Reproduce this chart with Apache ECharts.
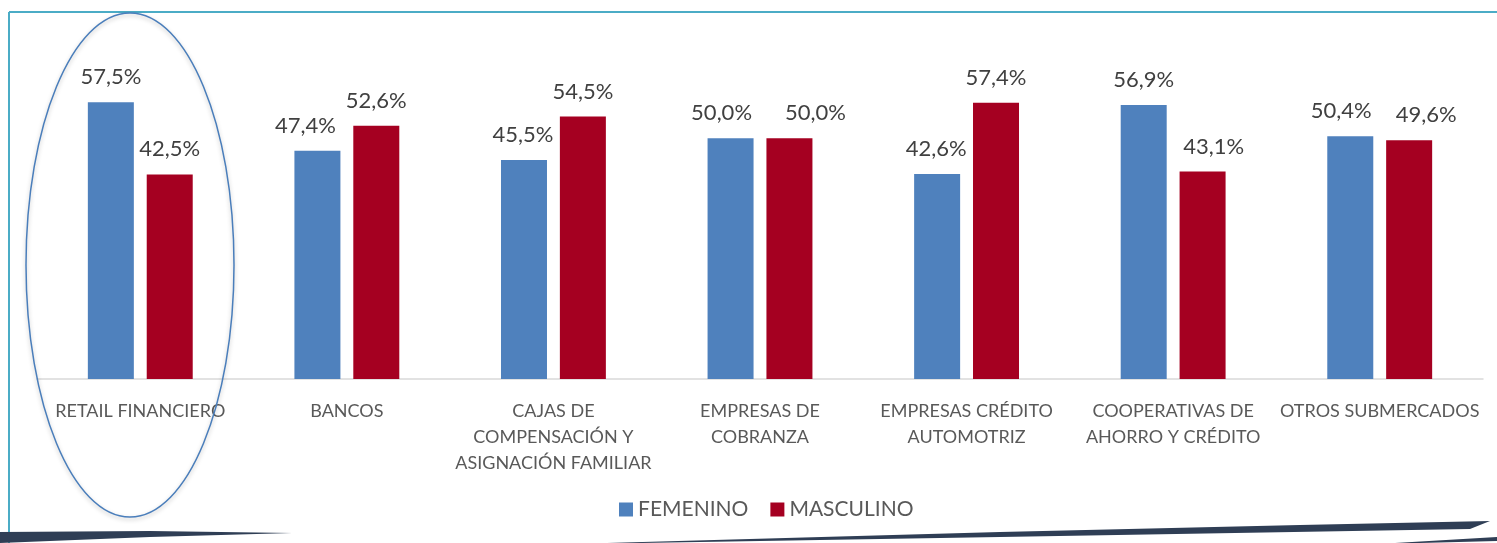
<!DOCTYPE html>
<html>
<head>
<meta charset="utf-8">
<script src="https://cdn.jsdelivr.net/npm/echarts@6/dist/echarts.min.js"></script>
<style>
  html, body { margin: 0; padding: 0; background: #fff; }
  #chart { width: 1497px; height: 543px; }
</style>
</head>
<body>
<div id="chart"></div>
<script>
// categories (line breaks as in the original chart)
var categories = [
  'RETAIL FINANCIERO',
  'BANCOS',
  'CAJAS DE\nCOMPENSACIÓN Y\nASIGNACIÓN FAMILIAR',
  'EMPRESAS DE\nCOBRANZA',
  'EMPRESAS CRÉDITO\nAUTOMOTRIZ',
  'COOPERATIVAS DE\nAHORRO Y CRÉDITO',
  'OTROS SUBMERCADOS'
];
var femenino = [57.5, 47.4, 45.5, 50.0, 42.6, 56.9, 50.4];
var masculino = [42.5, 52.6, 54.5, 50.0, 57.4, 43.1, 49.6];

// horizontal nudges of the value labels, like the original layout
var femLabelShift = [0, -12, -1, -9, -1, 0, -9];
var masLabelShift = [0, 0, 0, 26, 0, 11, 17];

var FONT = 'Lato, "Open Sans", sans-serif';

function pct(p) {
  return p.value.toFixed(1).replace('.', ',') + '%';
}

function withShift(values, shifts) {
  return values.map(function (v, i) {
    return { value: v, label: { offset: [shifts[i], 0] } };
  });
}

var labelStyle = {
  show: true, position: 'top', distance: 14, formatter: pct,
  fontFamily: FONT, fontSize: 22, color: '#404040'
};

var chart = echarts.init(document.getElementById('chart'));
chart.setOption({
  animation: false,
  backgroundColor: '#fff',
  grid: { left: 37, right: 14, top: 42, height: 337 },
  legend: {
    bottom: 18,
    left: 614,
    itemWidth: 14,
    itemHeight: 14,
    itemGap: 22,
    icon: 'rect',
    textStyle: { fontFamily: FONT, fontSize: 21, color: '#595959' },
    data: ['FEMENINO', 'MASCULINO']
  },
  xAxis: {
    type: 'category',
    data: categories,
    axisLine: { lineStyle: { color: '#d9d9d9', width: 1.5 } },
    axisTick: { show: false },
    axisLabel: {
      interval: 0,
      margin: 19,
      fontFamily: FONT,
      fontSize: 18,
      lineHeight: 26,
      color: '#595959'
    }
  },
  yAxis: {
    type: 'value',
    min: 0,
    max: 70,
    show: false,
    splitLine: { show: false }
  },
  series: [
    {
      name: 'FEMENINO',
      type: 'bar',
      data: withShift(femenino, femLabelShift),
      barWidth: 46,
      barGap: '28%',
      itemStyle: { color: '#4f81bd' },
      label: labelStyle
    },
    {
      name: 'MASCULINO',
      type: 'bar',
      data: withShift(masculino, masLabelShift),
      barWidth: 46,
      itemStyle: { color: '#a50021' },
      label: labelStyle
    }
  ],
  graphic: [
    // frame lines
    { type: 'line', shape: { x1: 9, y1: 12, x2: 1497, y2: 12 }, style: { stroke: '#4bacc6', lineWidth: 2 } },
    { type: 'line', shape: { x1: 9, y1: 12, x2: 9, y2: 543 }, style: { stroke: '#4bacc6', lineWidth: 2 } },
    // highlight ellipse
    {
      type: 'ellipse',
      shape: { cx: 130, cy: 265, rx: 104, ry: 252 },
      style: {
        fill: 'none', stroke: '#4a7ebb', lineWidth: 1.5,
        shadowBlur: 4, shadowColor: 'rgba(0,0,0,0.25)', shadowOffsetY: 2
      },
      z: 100
    },
    // bottom swooshes
    {
      type: 'polygon',
      shape: { points: [[0, 532], [150, 531], [292, 533], [150, 537], [0, 543]] },
      style: { fill: '#2f3e55' }
    },
    {
      type: 'polygon',
      shape: { points: [[607, 543], [1000, 532], [1300, 525], [1490, 521], [1470, 529], [1000, 537], [640, 543]] },
      style: { fill: '#2f3e55' }
    },
    {
      type: 'polygon',
      shape: { points: [[1395, 543], [1497, 537], [1497, 541], [1420, 543]] },
      style: { fill: '#2f3e55' }
    }
  ]
});
</script>
</body>
</html>
